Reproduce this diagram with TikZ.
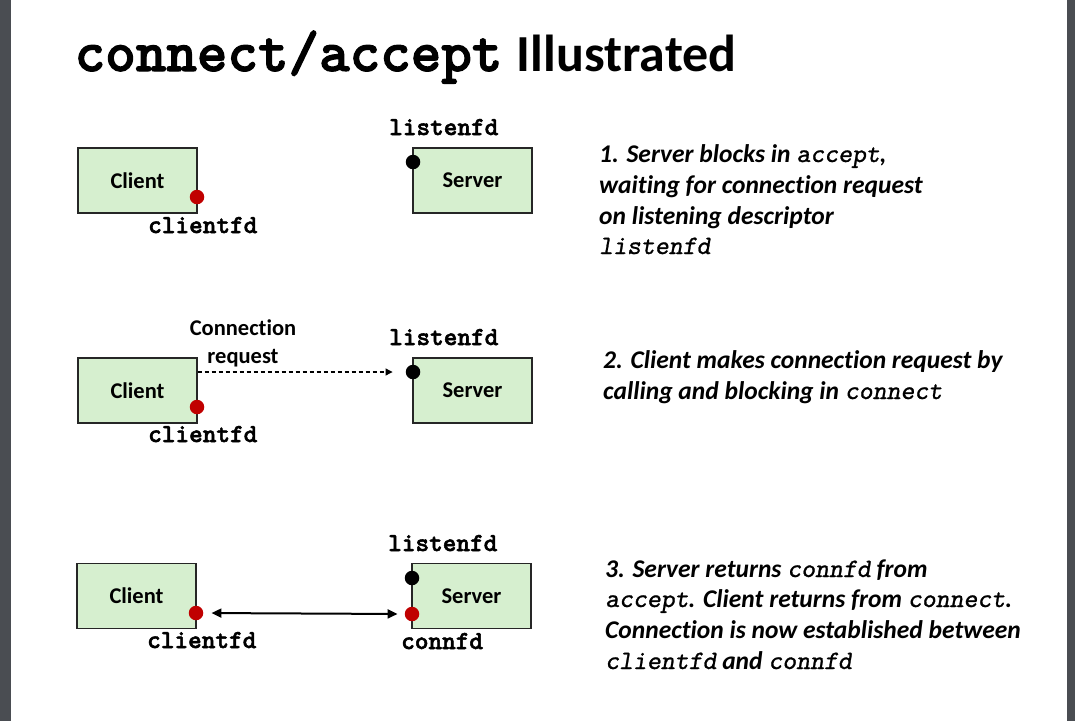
\documentclass[tikz,border=0pt]{standalone}
\usepackage{fontspec}
\setmainfont{Carlito}[Ligatures=CommonOff]
\newfontfamily\ttbf{lmmonolt10-bold.otf}[FakeBold=2]
\newfontfamily\ttsl{lmmonoslant10-regular.otf}[FakeBold=1]
\usetikzlibrary{arrows.meta}
\definecolor{boxgreen}{RGB}{214,239,207}
\definecolor{portred}{RGB}{192,0,0}
\definecolor{sidebar}{RGB}{74,77,82}
% inline code in the notes: oblique typewriter, a little larger than the text
\newcommand{\cod}[1]{{\fontsize{26.5}{31}\selectfont\ttsl #1}}

\begin{document}
\begin{tikzpicture}[x=1pt,y=-1pt,
  host/.style={draw=black!85,line width=1.3pt,fill=boxgreen,
    minimum width=119pt,minimum height=65pt,inner sep=0pt,
    font=\fontsize{22.5}{26}\selectfont\bfseries},
  fdlabel/.style={anchor=base west,inner sep=0pt,
    font=\fontsize{26}{30}\selectfont\ttbf},
  reddot/.style={circle,fill=portred,minimum size=14.5pt,inner sep=0pt},
  blackdot/.style={circle,fill=black,minimum size=14.5pt,inner sep=0pt},
  note/.style={anchor=base west,inner sep=0pt,
    font=\fontsize{25.5}{31}\selectfont\bfseries\itshape},
  request/.style={-{Triangle[length=7pt,width=7pt]},dash pattern=on 4pt off 3pt,line width=1.1pt},
  link/.style={{Triangle[length=10pt,width=9pt]}-{Triangle[length=10pt,width=9pt]},line width=2pt}
]
\useasboundingbox (0,0) rectangle (1075,721);
\fill[sidebar] (0,0) rectangle (11,721);
\fill[sidebar] (1067,0) rectangle (1075,721);

% title
\node[anchor=base west,inner sep=0pt] (title) at (74.5,71)
  {{\fontsize{58.2}{60}\selectfont\ttbf connect/accept}\hspace{14.5pt}{\fontsize{52}{60}\selectfont\bfseries Illustrated}};

% ---- step 1 ----
\node[host] (c1) at (137.5,180.5) {Client};
\node[host] (s1) at (472.5,180.5) {Server};
\node[reddot] (c1fd) at (197,197) {};
\node[blackdot] (s1l) at (413,162) {};
\node[fdlabel] (l1) at (389,135) {listenfd};
\node[fdlabel] (cf1) at (148,233) {clientfd};

\node[note] (n1a) at (599,162) {1. Server blocks in \cod{accept},};
\node[note] (n1b) at (599,193) {waiting for connection request};
\node[note] (n1c) at (599,224) {on listening descriptor};
\node[note] (n1d) at (599,254) {\cod{listenfd}};

% ---- step 2 ----
\node[host] (c2) at (137.5,390.5) {Client};
\node[host] (s2) at (472.5,390.5) {Server};
\node[reddot] (c2fd) at (197,407) {};
\node[blackdot] (s2l) at (413,372) {};
\node[fdlabel] (l2) at (389,345) {listenfd};
\node[fdlabel] (cf2) at (148,442) {clientfd};
\node[align=center,inner sep=0pt,font=\fontsize{22.5}{28}\selectfont\bfseries]
  (req) at (243,343.5) {Connection\\request};
\draw[request] (c2.east |- s2l) -- (s2l.west) [shorten >=13pt];

\node[note] (n2a) at (603,368) {2. Client makes connection request by};
\node[note] (n2b) at (603,399) {calling and blocking in \cod{connect}};

% ---- step 3 ----
\node[host] (c3) at (136.5,596) {Client};
\node[host] (s3) at (471.5,596) {Server};
\node[reddot] (c3fd) at (196,613) {};
\node[blackdot] (s3l) at (412,578) {};
\node[reddot] (s3c) at (412,614) {};
\node[fdlabel] (l3) at (388,551) {listenfd};
\node[fdlabel] (cf3) at (147,648) {clientfd};
\node[fdlabel] (cn3) at (401,649) {connfd};
\draw[link,shorten <=8pt,shorten >=7pt] (c3fd.east) -- (s3c.west);

\node[note] (n3a) at (605,577) {3. Server returns \cod{connfd} from};
\node[note] (n3b) at (605,607) {\cod{accept}. Client returns from \cod{connect}.};
\node[note] (n3c) at (605,638) {Connection is now established between};
\node[note] (n3d) at (605,669) {\cod{clientfd} and \cod{connfd}};
\end{tikzpicture}
\end{document}
